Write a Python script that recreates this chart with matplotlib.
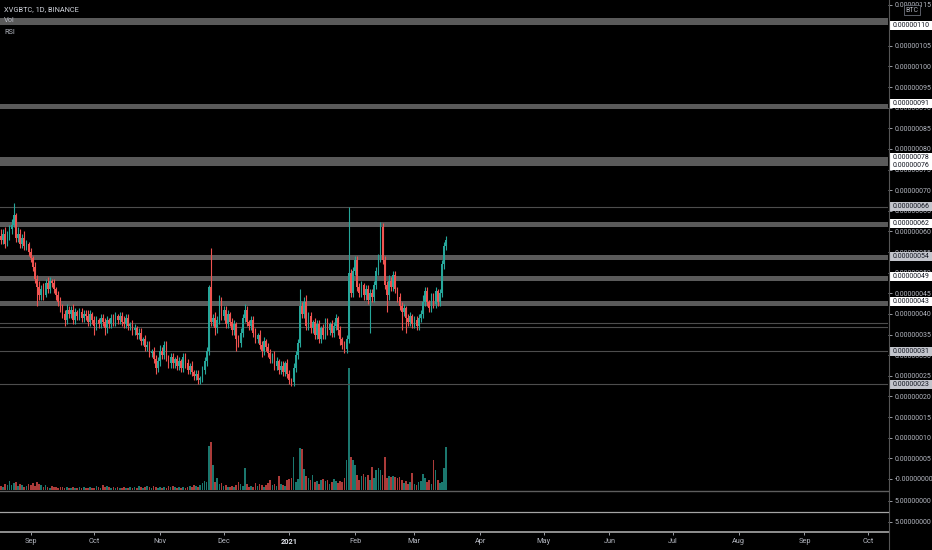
import matplotlib
matplotlib.use('Agg')
import matplotlib.pyplot as plt
import matplotlib.dates as mdates
import matplotlib.transforms as mtransforms
from matplotlib.patches import Rectangle
from matplotlib.lines import Line2D
import numpy as np
import pandas as pd

# prices in satoshi (1e-8 BTC), one candle per day from 2020-08-18
first_open = 59
closes = [
    58, 59.5, 57, 59, 60.5, 61.5, 64, 58.5, 59.5, 57,
    58.5, 56.5, 57, 55, 53.5, 51.5, 48.5, 46.5, 44.5, 46,
    44.5, 47.5, 46, 48, 47.5, 46, 44.5, 43, 41.5, 40,
    38.5, 41, 40, 41, 38.5, 40.5, 39.5, 40.5, 39, 40,
    39.5, 38, 40, 38.5, 37, 38.5, 37.5, 39, 38, 36.5,
    38.5, 37.5, 39, 38, 39.5, 38.5, 39.5, 38, 37.5, 39,
    37, 37.5, 36, 36.5, 35, 35.5, 33.5, 34, 32, 32.5,
    30.5, 31, 29, 27, 28.5, 31, 30, 32.5, 29.5, 28,
    29.5, 28, 29, 27.5, 28.5, 27, 29.5, 28, 26.5, 27.5,
    26, 25, 25.5, 24, 24.5, 26.5, 28.5, 31, 46.5, 38,
    39, 36.5, 38.5, 43, 39.5, 41, 37.5, 40, 38, 36,
    37.5, 34, 33, 35.5, 39, 41, 38, 37, 38.5, 35.5,
    34, 35, 32.5, 31, 33.5, 32, 30.5, 29, 30, 27.5,
    28.5, 26.5, 27.5, 26, 28, 25.5, 24, 23.5, 27, 30,
    33, 42, 40, 43, 37, 39.5, 36.5, 38, 35, 37.5,
    34, 36.5, 35, 38, 36, 37.5, 35.5, 37, 39, 36,
    34, 32.5, 31.5, 34, 50, 45, 50.5, 53, 46.5, 45,
    47, 44.5, 46, 43.5, 45, 44, 47, 50.5, 53.5, 61,
    53, 47, 44.5, 48, 46.5, 49.5, 46, 44, 42, 40.5,
    41.5, 39, 38, 39.5, 37.5, 38.5, 37, 39, 40, 43,
    45.5, 43, 41.5, 44, 42.5, 45.5, 43, 45, 52, 56.5,
    58,
]
upper_wick = [
    1.5, 1, 1.5, 1, 1, 1.5, 3, 0.5, 1.5, 1,
    1, 1.5, 1, 0.5, 1, 0.5, 1, 1, 1.5, 1,
    1.5, 1, 1.5, 1, 0.5, 1, 0.5, 1, 1, 1,
    1, 1.5, 1, 1, 1.5, 1, 0.5, 1, 1, 1,
    1, 1.5, 1, 0.5, 1, 1, 0.5, 1, 1, 1,
    1, 0.5, 1, 1, 1, 0.5, 1, 1, 1.5, 1,
    1, 0.5, 1, 1, 0.5, 1, 1, 0.5, 1, 1,
    1, 0.5, 1, 1, 1, 1.5, 1, 1, 1, 0.5,
    1, 1, 0.5, 1, 1, 0.5, 1, 1, 1, 0.5,
    1, 0.5, 1, 1, 0.5, 1, 1, 1, 0.5, 9.5,
    1, 1.5, 1, 1.5, 1, 1, 1, 1, 0.5, 1,
    1, 0.5, 1, 1, 1, 1.5, 1, 0.5, 1, 1,
    1, 0.5, 1, 1, 1, 0.5, 1, 1, 0.5, 1,
    1, 0.5, 1, 1, 0.5, 1, 1, 0.5, 1, 1,
    1, 4, 1, 1, 1.5, 1, 1, 0.5, 1, 1,
    1, 0.5, 1, 1, 1, 0.5, 1, 1, 1, 0.5,
    1, 0.5, 1, 1, 16, 1, 1, 1, 1, 1,
    1, 0.5, 1, 1, 1, 1, 1, 1, 1, 1.3,
    1, 1, 1, 1.5, 1, 1, 1, 0.5, 1, 1,
    1, 0.5, 1, 1, 0.5, 1, 1, 1, 1, 1.5,
    1, 1, 0.5, 1, 1, 1, 0.5, 1, 1, 1,
    1,
]
lower_wick = [
    1, 1, 1, 0.5, 1, 1, 0.5, 1, 1, 1,
    1, 1, 1, 1, 1, 1, 1, 4.5, 1, 1,
    1, 0.5, 1, 1, 1, 1, 1, 1, 1, 1,
    1.5, 1, 1, 1, 1, 1, 1, 1, 1, 1,
    1, 1, 1, 1, 2, 1, 1, 1, 1, 1.5,
    1, 1, 1, 1, 1, 1, 1, 1, 1, 1,
    1, 1, 1, 1, 1, 1, 1, 1, 1, 1,
    1, 1, 1, 1.5, 1, 1, 1, 1, 1, 1,
    1, 1, 1, 1, 1, 1, 1, 1, 1, 1,
    1, 1, 1, 1, 1, 1, 1, 1, 1, 1,
    1, 1.5, 1, 1, 1, 1, 1, 1, 1, 1,
    1, 3, 1, 1, 1, 1, 1, 1, 1, 1,
    1, 1, 1, 1.5, 1, 1, 1, 1, 1, 1,
    1, 1, 1, 1, 1, 1, 1, 1, 1, 1,
    1, 1, 1, 1, 1, 1, 1, 1, 1, 1,
    1, 1, 1, 1, 1, 1, 1, 1, 1, 1,
    1.5, 1, 1, 1, 1, 1, 1, 1, 1, 1,
    1, 1, 1, 1, 8, 1, 1, 1, 1, 1,
    1, 1, 4, 1, 1, 1, 1, 1, 1, 4.5,
    1, 3.5, 1, 1, 1, 1, 1, 1, 1, 1,
    1, 1, 1, 1, 1, 1, 1, 1, 1, 1,
    1,
]
volume = [
    4, 3, 6, 5, 9, 5, 7, 8, 4, 6,
    5, 3, 4, 6, 5, 7, 4, 8, 6, 5,
    3, 5, 3, 2, 4, 3, 3, 2, 3, 3,
    2, 3, 2, 2, 3, 2, 2, 3, 2, 3,
    2, 2, 3, 2, 2, 4, 3, 2, 5, 3,
    4, 3, 2, 3, 2, 3, 2, 2, 3, 2,
    2, 3, 2, 3, 2, 4, 3, 2, 3, 4,
    3, 2, 4, 3, 2, 3, 2, 3, 2, 4,
    3, 4, 3, 2, 3, 2, 3, 2, 3, 4,
    3, 5, 4, 3, 5, 7, 9, 8, 44, 48,
    25, 8, 12, 6, 7, 4, 5, 3, 3, 4,
    3, 5, 8, 6, 4, 22, 6, 3, 4, 3,
    7, 4, 6, 5, 3, 5, 7, 10, 5, 6,
    4, 14, 6, 5, 4, 10, 11, 12, 33, 8,
    11, 42, 41, 21, 14, 12, 10, 15, 8, 9,
    6, 10, 11, 9, 10, 6, 8, 11, 9, 7,
    9, 8, 12, 30, 122, 33, 30, 25, 15, 10,
    14, 16, 13, 15, 10, 23, 12, 20, 22, 20,
    15, 33, 12, 14, 13, 14, 13, 12, 13, 10,
    7, 9, 6, 8, 17, 6, 5, 8, 9, 16,
    12, 8, 10, 6, 30, 20, 10, 7, 8, 22,
    43,
]

# drawn support / resistance zones and lines
zones = [(110, 111.7), (89.8, 91), (75.8, 78), (61.2, 62.3),
         (53, 54.2), (48, 49.2), (42, 43.2)]
thin_lines = [66, 37.9, 36.8, 31, 23]
white_marks = [110, 91, 78, 76, 62, 49, 43]
grey_marks = [66, 54, 31, 23]

month_ticks = ['2020-09-01', '2020-10-01', '2020-11-01', '2020-12-01',
               '2021-01-01', '2021-02-01', '2021-03-01', '2021-04-01',
               '2021-05-01', '2021-06-01', '2021-07-01', '2021-08-01',
               '2021-09-01', '2021-10-01']
month_labels = ['Sep', 'Oct', 'Nov', 'Dec', '2021', 'Feb', 'Mar', 'Apr',
                'May', 'Jun', 'Jul', 'Aug', 'Sep', 'Oct']

FONT = ['Roboto', 'DejaVu Sans']
FS = 5
UP = '#26a69a'
DOWN = '#ef5350'
TXT = '#b2b5be'
W, H = 932, 550


def fmt_price(v):
    if v == 0:
        return '-0.00000000'
    return f'{v * 1e-8:.8f}'


dates = pd.date_range('2020-08-18', periods=len(closes), freq='D')
x = mdates.date2num(dates.to_pydatetime())
o = np.array([first_open] + closes[:-1], dtype=float)
c = np.array(closes, dtype=float)
hi = np.maximum(o, c) + np.array(upper_wick)
lo = np.minimum(o, c) - np.array(lower_wick)
colors = [UP if cc >= oo else DOWN for oo, cc in zip(o, c)]

fig = plt.figure(figsize=(W / 100, H / 100), dpi=100, facecolor='black')
rect_main = [0, 60 / H, 888 / W, 490 / H]

axv = fig.add_axes(rect_main)
axv.set_zorder(0)
axv.set_facecolor('black')
axv.bar(x, volume, width=0.8, color=colors, alpha=0.72, linewidth=0)
axv.set_ylim(0, max(volume) * 4.0)
axv.axis('off')

ax = fig.add_axes(rect_main, sharex=axv)
ax.set_zorder(1)
ax.patch.set_visible(False)
for lo_z, hi_z in zones:
    ax.axhspan(lo_z, hi_z, color='#5a5a5a', lw=0, zorder=1)
for v in thin_lines:
    ax.axhline(v, color='#4d4d4d', lw=0.8, zorder=1)

ax.vlines(x, lo, hi, colors=colors, linewidth=0.8, zorder=2)
ax.bar(x, np.maximum(np.abs(c - o), 0.25), bottom=np.minimum(o, c),
       width=0.8, color=colors, linewidth=0, zorder=3)

x0 = mdates.date2num(pd.Timestamp('2020-08-18'))
ax.set_xlim(x0 - 0.47, x0 + 418.4)
ax.set_ylim(-2.67, 116.12)
for s in ax.spines.values():
    s.set_visible(False)
ax.yaxis.tick_right()
# tick values hidden exactly under a marker box are left out
yt = [v for v in range(0, 116, 5) if v not in white_marks + grey_marks]
ax.set_yticks(yt)
ax.set_yticklabels([fmt_price(v) for v in yt], family=FONT, fontsize=FS, color=TXT)
ax.tick_params(axis='y', length=3, width=0.6, color=TXT, pad=2)
ax.tick_params(axis='x', bottom=False, labelbottom=False)

trans = mtransforms.blended_transform_factory(ax.transAxes, ax.transData)
for v in white_marks + grey_marks:
    fc = 'white' if v in white_marks else '#c3c5cc'
    ax.add_patch(Rectangle((1.0006, v - 1.1), 43 / 888, 2.2, transform=trans,
                           facecolor=fc, edgecolor='none', clip_on=False, zorder=6))
    ax.text(1 + 5 / 888, v, fmt_price(v), transform=trans, va='center',
            ha='left', family=FONT, fontsize=FS, color='#131722',
            clip_on=False, zorder=7)

# lower panes
ax2 = fig.add_axes([0, 39 / H, 888 / W, 21 / H], sharex=ax)
ax3 = fig.add_axes([0, 18 / H, 888 / W, 21 / H], sharex=ax)
for a in (ax2, ax3):
    a.set_facecolor('none')
    for s in a.spines.values():
        s.set_visible(False)
    a.set_ylim(0, 1)
    a.yaxis.tick_right()
    a.set_yticks([0.5])
    a.set_yticklabels(['5.00000000'], family=FONT, fontsize=FS, color=TXT)
    a.tick_params(axis='y', length=3, width=0.6, color=TXT, pad=2)
ax2.tick_params(axis='x', bottom=False, labelbottom=False)

ticks = mdates.date2num(pd.to_datetime(month_ticks).to_pydatetime())
ax3.set_xticks(ticks)
ax3.set_xticklabels(month_labels, family=FONT, fontsize=FS + 0.3, color=TXT)
for lab in ax3.get_xticklabels():
    if lab.get_text() == '2021':
        lab.set_fontweight('bold')
        lab.set_color('#e0e3eb')
ax3.tick_params(axis='x', length=2.5, width=0.6, color=TXT, pad=2)
ax3.set_xlim(x0 - 0.47, x0 + 418.4)

# pane separators and price scale edge
for ypix, col, lw in [(490.5, '#5e5e5e', 1.0), (511.5, '#a5a5a5', 0.9),
                      (532, '#8f8f8f', 1.4)]:
    fig.add_artist(Line2D([0, 888 / W], [1 - ypix / H, 1 - ypix / H],
                          color=col, lw=lw, zorder=10))
fig.add_artist(Line2D([888.5 / W, 888.5 / W], [0, 1], color='#555555', lw=0.8))

fig.text(4 / W, 1 - 10 / H, 'XVGBTC, 1D, BINANCE', family=FONT, fontsize=FS + 0.3,
         color='#d1d4dc', va='center')
fig.text(4 / W, 1 - 21 / H, 'Vol', family=FONT, fontsize=FS + 0.3,
         color='#b2b5be', va='center')
fig.text(4 / W, 1 - 32 / H, 'RSI', family=FONT, fontsize=FS + 0.3,
         color='#b2b5be', va='center')
fig.text(912 / W, 1 - 10 / H, 'BTC', family=FONT, fontsize=FS, color=TXT,
         va='center', ha='center',
         bbox=dict(boxstyle='square,pad=0.25', fc='black', ec='#6a6d78', lw=0.6))

fig.savefig('out.png', dpi=100, facecolor='black')
